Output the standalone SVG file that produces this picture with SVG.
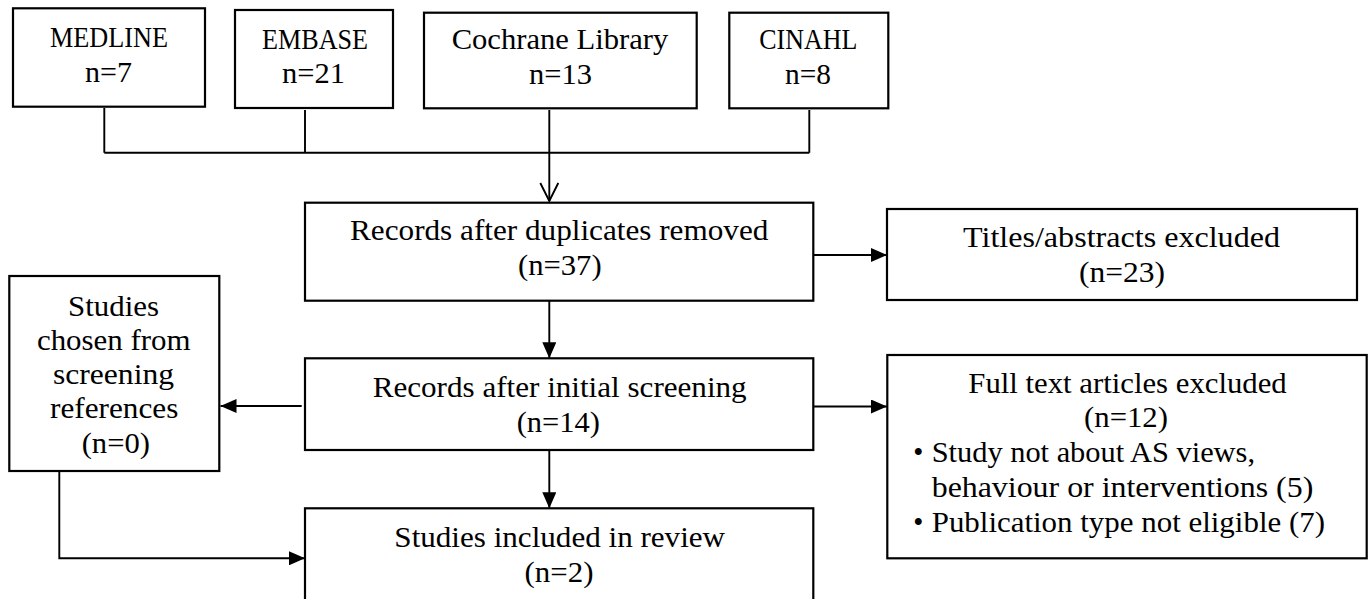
<svg xmlns="http://www.w3.org/2000/svg" width="1372" height="599" viewBox="0 0 1372 599">
<style>
.box{fill:#fff;stroke:#000;stroke-width:2.2}
.t{font-family:"Liberation Serif","Times New Roman",serif;font-size:28.8px;fill:#000;text-anchor:middle}
.tl{font-family:"Liberation Serif","Times New Roman",serif;font-size:28.8px;fill:#000;text-anchor:start}
.c{fill:none;stroke:#000;stroke-width:1.9}
</style>
<defs>
<marker id="arr" viewBox="0 0 16 14" refX="16" refY="7" markerWidth="16" markerHeight="14" markerUnits="userSpaceOnUse" orient="auto">
<path d="M0,0 L16,7 L0,14 z" fill="#000"/>
</marker>
<marker id="open" viewBox="0 0 20 20" refX="19" refY="10" markerWidth="20" markerHeight="20" markerUnits="userSpaceOnUse" orient="auto">
<path d="M1,1 L19,10 L1,19" fill="none" stroke="#000" stroke-width="1.9"/>
</marker>
</defs>
<rect width="1372" height="599" fill="#fff"/>

<g id="connectors">
<path class="c" d="M104.3,108 V152.7 M305,110 V152.7 M809.3,110 V152.7 M104.3,152.7 H809.3"/>
<path class="c" d="M549.3,110 V201" marker-end="url(#open)"/>
<path class="c" d="M813.3,255 H887" marker-end="url(#arr)"/>
<path class="c" d="M549.3,300.7 V358.3" marker-end="url(#arr)"/>
<path class="c" d="M301.7,406 H220.5" marker-end="url(#arr)"/>
<path class="c" d="M813.3,406.5 H887" marker-end="url(#arr)"/>
<path class="c" d="M549.3,450 V508.3" marker-end="url(#arr)"/>
<path class="c" d="M59.3,471 V558.3 H305" marker-end="url(#arr)"/>
</g>

<g id="medline">
<rect class="box" x="13" y="8.3" width="192" height="98.4"/>
<text class="t" x="109" y="46.7" textLength="118" lengthAdjust="spacingAndGlyphs">MEDLINE</text>
<text class="t" x="108.5" y="81.7" textLength="47" lengthAdjust="spacingAndGlyphs">n=7</text>
</g>

<g id="embase">
<rect class="box" x="235" y="10" width="158" height="98"/>
<text class="t" x="315" y="49.3" textLength="106" lengthAdjust="spacingAndGlyphs">EMBASE</text>
<text class="t" x="313.5" y="83.3" textLength="63" lengthAdjust="spacingAndGlyphs">n=21</text>
</g>

<g id="cochrane">
<rect class="box" x="424" y="12.7" width="272.7" height="95.6"/>
<text class="t" x="560" y="49.3" textLength="216.7" lengthAdjust="spacingAndGlyphs">Cochrane Library</text>
<text class="t" x="560.5" y="84" textLength="63" lengthAdjust="spacingAndGlyphs">n=13</text>
</g>

<g id="cinahl">
<rect class="box" x="729.3" y="12.7" width="159" height="95.6"/>
<text class="t" x="808.3" y="49.3" textLength="98" lengthAdjust="spacingAndGlyphs">CINAHL</text>
<text class="t" x="808" y="84" textLength="46" lengthAdjust="spacingAndGlyphs">n=8</text>
</g>

<g id="records-dedup">
<rect class="box" x="305" y="202.7" width="508.3" height="98"/>
<text class="t" x="559.2" y="240" textLength="418.3" lengthAdjust="spacingAndGlyphs">Records after duplicates removed</text>
<text class="t" x="559.8" y="275" textLength="83.7" lengthAdjust="spacingAndGlyphs">(n=37)</text>
</g>

<g id="titles-excluded">
<rect class="box" x="887" y="209" width="470" height="91"/>
<text class="t" x="1121.5" y="246.5" textLength="317" lengthAdjust="spacingAndGlyphs">Titles/abstracts excluded</text>
<text class="t" x="1122" y="281.5" textLength="86" lengthAdjust="spacingAndGlyphs">(n=23)</text>
</g>

<g id="studies-chosen">
<rect class="box" x="9.3" y="276" width="210" height="195"/>
<text class="t" x="113.5" y="316" textLength="91" lengthAdjust="spacingAndGlyphs">Studies</text>
<text class="t" x="113.8" y="350" textLength="153.7" lengthAdjust="spacingAndGlyphs">chosen from</text>
<text class="t" x="113.5" y="384" textLength="121" lengthAdjust="spacingAndGlyphs">screening</text>
<text class="t" x="114.2" y="418.3" textLength="128.3" lengthAdjust="spacingAndGlyphs">references</text>
<text class="t" x="115.8" y="452.7" textLength="68.3" lengthAdjust="spacingAndGlyphs">(n=0)</text>
</g>

<g id="records-screening">
<rect class="box" x="305" y="358.3" width="508.3" height="91.7"/>
<text class="t" x="559.7" y="396.7" textLength="374" lengthAdjust="spacingAndGlyphs">Records after initial screening</text>
<text class="t" x="558.3" y="431.7" textLength="83.3" lengthAdjust="spacingAndGlyphs">(n=14)</text>
</g>

<g id="fulltext-excluded">
<rect class="box" x="887.3" y="355" width="479.4" height="203.3"/>
<text class="t" x="1127.5" y="393.3" textLength="318.4" lengthAdjust="spacingAndGlyphs">Full text articles excluded</text>
<text class="t" x="1126" y="426.7" textLength="84" lengthAdjust="spacingAndGlyphs">(n=12)</text>
<text class="t" x="918.3" y="461.7">•</text>
<text class="tl" x="931.7" y="461.7" textLength="323.3" lengthAdjust="spacingAndGlyphs">Study not about AS views,</text>
<text class="tl" x="931.7" y="496.7" textLength="381.6" lengthAdjust="spacingAndGlyphs">behaviour or interventions (5)</text>
<text class="t" x="918.3" y="531.7">•</text>
<text class="tl" x="931.7" y="531.7" textLength="393.3" lengthAdjust="spacingAndGlyphs">Publication type not eligible (7)</text>
</g>

<g id="studies-included">
<rect class="box" x="305" y="508.3" width="508.3" height="110"/>
<text class="t" x="559.7" y="546.7" textLength="330.7" lengthAdjust="spacingAndGlyphs">Studies included in review</text>
<text class="t" x="559" y="581.7" textLength="69" lengthAdjust="spacingAndGlyphs">(n=2)</text>
</g>
</svg>
